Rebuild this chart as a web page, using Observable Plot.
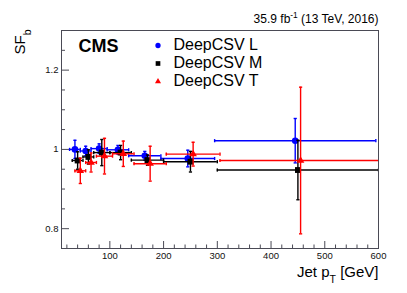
<!DOCTYPE html>
<html><head><meta charset="utf-8">
<script src="https://cdn.jsdelivr.net/npm/d3@7"></script>
<script src="https://cdn.jsdelivr.net/npm/@observablehq/plot@0.6"></script>
<style>body{margin:0;background:#fff}</style>
</head><body><div id="chart"></div>
<script>
// ---- data ----
const binLo = [30, 50, 70, 100, 140, 200, 300];
const binHi = [50, 70, 100, 140, 200, 300, 600];
const series = ["DeepCSV L", "DeepCSV M", "DeepCSV T"];
const ptShift = [-5, 0, 5];
const sfL  = [1.000, 0.996, 1.002, 0.999, 0.984, 0.977, 1.022];
const errL = [0.023, 0.012, 0.012, 0.011, 0.011, 0.021, 0.056];
const sfM  = [0.972, 0.981, 0.992, 0.992, 0.973, 0.969, 0.948];
const errM = [0.022, 0.018, 0.033, 0.018, 0.013, 0.026, 0.075];
const sfT  = [0.946, 0.967, 0.983, 0.989, 0.964, 0.988, 0.972];
const errT = [0.032, 0.024, 0.045, 0.032, 0.044, 0.030, 0.185];
const xMajor = [100, 200, 300, 400, 500, 600];
const xMinor = [20, 40, 60, 80, 120, 140, 160, 180, 220, 240, 260, 280, 320, 340, 360, 380, 420, 440, 460, 480, 520, 540, 560, 580];
const yMajor = [0.8, 1.0, 1.2];
const yMinor = [0.85, 0.9, 0.95, 1.05, 1.1, 1.15, 1.25];
const lumiText = "35.9 fb^{-1} (13 TeV, 2016)";
const xTitle = "Jet p_{T} [GeV]";
const yTitle = "SF_{b}";
const cmsText = "CMS";

// ---- style ----
const colors = ["#0000ff", "#000000", "#ff0000"];
const symbols = ["circle", "square", "triangle"];
const radii = [3.3, 3.3, 2.8];
const W = 407, H = 293;
const M = {top: 30, right: 29, bottom: 45, left: 61};
const FW = W - M.left - M.right, FH = H - M.top - M.bottom;
const axisColor = "#4a4a55";
const lw = 1.4;

const vals = [sfL, sfM, sfT], errs = [errL, errM, errT];
const rows = series.flatMap((s, i) => binLo.map((lo, j) => ({
  series: s, i,
  xlo: lo + ptShift[i], xhi: binHi[j] + ptShift[i],
  xc: (lo + binHi[j]) / 2 + ptShift[i],
  sf: vals[i][j], lo: vals[i][j] - errs[i][j], hi: vals[i][j] + errs[i][j]
})));

const vCap = {draw(ctx, size) { const h = Math.sqrt(size / Math.PI); ctx.moveTo(0, -h); ctx.lineTo(0, h); }};
const hCap = {draw(ctx, size) { const h = Math.sqrt(size / Math.PI); ctx.moveTo(-h, 0); ctx.lineTo(h, 0); }};

const seriesMarks = series.flatMap((s, i) => {
  const d = rows.filter(r => r.i === i);
  const c = colors[i];
  return [
    Plot.ruleY(d, {y: "sf", x1: "xlo", x2: "xhi", stroke: c, strokeWidth: lw, clip: true}),
    Plot.ruleX(d, {x: "xc", y1: "lo", y2: "hi", stroke: c, strokeWidth: lw, clip: true}),
    Plot.dot(d, {x: "xlo", y: "sf", symbol: vCap, r: 1.6, stroke: c, fill: "none", strokeWidth: lw, clip: true}),
    Plot.dot(d, {x: "xhi", y: "sf", symbol: vCap, r: 1.6, stroke: c, fill: "none", strokeWidth: lw, clip: true}),
    Plot.dot(d, {x: "xc", y: "lo", symbol: hCap, r: 1.6, stroke: c, fill: "none", strokeWidth: lw, clip: true}),
    Plot.dot(d, {x: "xc", y: "hi", symbol: hCap, r: 1.6, stroke: c, fill: "none", strokeWidth: lw, clip: true}),
    Plot.dot(d, {x: "xc", y: "sf", symbol: symbols[i], r: radii[i], fill: c, stroke: "none"})
  ];
});

const legendMarks = series.flatMap((s, i) => [
  Plot.dot([s], {frameAnchor: "top-left", dx: 96.5, dy: 15 + 18 * i, symbol: symbols[i], r: radii[i] * 0.8, fill: colors[i], stroke: "none"}),
  Plot.text([s], {frameAnchor: "top-left", dx: 112, dy: 19.5 + 18 * i, text: d => d, textAnchor: "start", lineAnchor: "bottom", fontSize: 16, fill: "#000"})
]);

const chart = Plot.plot({
  width: W, height: H,
  marginTop: M.top, marginRight: M.right, marginBottom: M.bottom, marginLeft: M.left,
  style: {fontFamily: "'Liberation Sans', Arial, sans-serif", fontSize: "9.5px", color: "#111", background: "#fff"},
  x: {domain: [10, 600], ticks: xMajor, tickSize: 0, tickPadding: 4, tickFormat: d => String(d), label: null},
  y: {domain: [0.75, 1.3], ticks: yMajor, tickSize: 0, tickPadding: 3, tickFormat: d3.format("~g"), label: null},
  marks: [
    Plot.tickX(xMajor, {x: d => d, insetTop: FH - 7, stroke: axisColor}),
    Plot.tickX(xMinor, {x: d => d, insetTop: FH - 3.5, stroke: axisColor}),
    Plot.tickY(yMajor, {y: d => d, insetRight: FW - 8, stroke: axisColor}),
    Plot.tickY(yMinor, {y: d => d, insetRight: FW - 4, stroke: axisColor}),
    ...seriesMarks,
    Plot.frame({stroke: axisColor, strokeWidth: 1}),
    ...legendMarks,
    Plot.text([cmsText], {frameAnchor: "top-left", dx: 17, dy: 21, text: d => d, textAnchor: "start", lineAnchor: "bottom", fontSize: 18, fontWeight: "bold", fill: "#000"}),
    Plot.text([lumiText], {frameAnchor: "top-right", dx: 0, dy: -8, text: d => d, textAnchor: "end", lineAnchor: "bottom", fontSize: 12, fill: "#000"}),
    Plot.text([xTitle], {frameAnchor: "bottom-right", dx: 0, dy: 28.5, text: d => d, textAnchor: "end", lineAnchor: "bottom", fontSize: 15, fill: "#000"}),
    Plot.text([yTitle], {frameAnchor: "top-left", dx: -37, dy: -1, rotate: -90, text: d => d, textAnchor: "end", lineAnchor: "bottom", fontSize: 15, fill: "#000"})
  ]
});

// turn ^{..} and _{..} into super/subscript tspans
d3.select(chart).selectAll("text").each(function() {
  const s = this.textContent;
  if (!/[\^_]\{/.test(s)) return;
  const parts = s.split(/([\^_]\{[^}]*\})/).filter(p => p.length);
  this.textContent = "";
  const sel = d3.select(this);
  for (const p of parts) {
    const m = p.match(/^([\^_])\{([^}]*)\}$/);
    if (m) {
      sel.append("tspan").attr("baseline-shift", m[1] === "^" ? "super" : "sub").attr("font-size", "70%").text(m[2]);
    } else {
      sel.append("tspan").text(p);
    }
  }
});

document.getElementById("chart").appendChild(chart);
</script>
</body></html>
